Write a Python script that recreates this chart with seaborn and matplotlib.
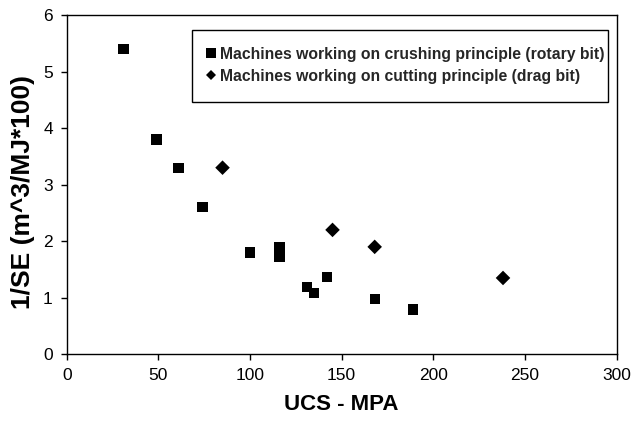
import matplotlib
matplotlib.use("Agg")
import matplotlib.pyplot as plt
from matplotlib.lines import Line2D
from matplotlib.patches import Rectangle
import seaborn as sns
import pandas as pd

# ---- data ----
crush_ucs = [31, 49, 61, 74, 100, 116, 116, 131, 135, 142, 168, 189]
crush_inv_se = [5.4, 3.8, 3.3, 2.6, 1.8, 1.9, 1.73, 1.19, 1.08, 1.37, 0.98, 0.79]
cut_ucs = [85, 145, 168, 238]
cut_inv_se = [3.3, 2.2, 1.9, 1.35]
crush_label = "Machines working on crushing principle (rotary bit)"
cut_label = "Machines working on cutting principle (drag bit)"
x_ticks = [0, 50, 100, 150, 200, 250, 300]
y_ticks = [0, 1, 2, 3, 4, 5, 6]

df = pd.DataFrame({
    "ucs": crush_ucs + cut_ucs,
    "inv_se": crush_inv_se + cut_inv_se,
    "type": [crush_label] * len(crush_ucs) + [cut_label] * len(cut_ucs),
})

sns.set_theme(style="ticks")
plt.rcParams["font.family"] = ["Liberation Sans", "DejaVu Sans"]

fig = plt.figure(figsize=(6.31, 4.21), dpi=100)
ax = fig.add_axes([0.1057, 0.1584, 0.8716, 0.8060])

sns.scatterplot(data=df, x="ucs", y="inv_se", style="type",
                markers={crush_label: "s", cut_label: "D"},
                color="black", s=55, linewidth=0, legend=False, ax=ax)

ax.set_xlim(0, 300)
ax.set_ylim(0, 6)
ax.set_xticks(x_ticks)
ax.set_yticks(y_ticks)
ax.tick_params(axis="both", direction="out", length=4, width=1, color="black",
               labelsize=12.5, pad=6, labelcolor="black")
for sp in ax.spines.values():
    sp.set_visible(True)
    sp.set_color("black")
    sp.set_linewidth(1)

ax.set_xlabel("UCS - MPA", fontsize=16, fontweight="bold", color="black")
ax.set_ylabel("1/SE (m^3/MJ*100)", fontsize=19, fontweight="bold", color="black")
ax.xaxis.set_label_coords(0.5, -0.117)
ax.yaxis.set_label_coords(-0.0576, 0.477)

# legend box (frame drawn separately so the text can sit close to its right edge)
ax.add_patch(Rectangle((0.2278, 0.7436), 0.9842 - 0.2278, 0.9558 - 0.7436,
                       transform=ax.transAxes, facecolor="white", edgecolor="black",
                       linewidth=1, zorder=4))
handles = [
    Line2D([], [], marker="s", linestyle="none", color="black", markersize=7.2, markeredgewidth=0),
    Line2D([], [], marker="D", linestyle="none", color="black", markersize=5.5, markeredgewidth=0),
]
leg = ax.legend(handles, [crush_label, cut_label], loc="upper left",
                bbox_to_anchor=(0.2515, 0.9057), frameon=False,
                borderpad=0, handlelength=0.7, handletextpad=0.25, labelspacing=0.42,
                prop={"weight": "bold", "size": 11.3}, borderaxespad=0)
leg.set_zorder(5)

fig.savefig("out.png", dpi=100, facecolor="white")
